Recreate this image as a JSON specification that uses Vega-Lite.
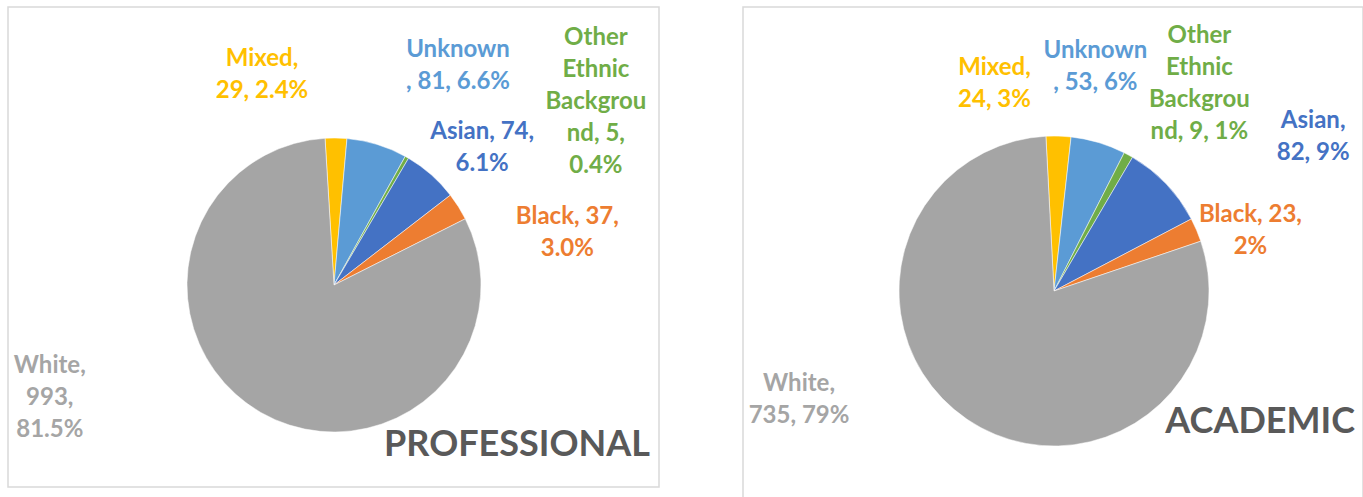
{
  "$schema": "https://vega.github.io/schema/vega-lite/v6.json",
  "padding": {"left": 7, "top": 4, "right": 0, "bottom": 0},
  "spacing": 84,
  "bounds": "flush",
  "config": {
    "view": {"stroke": "#D9D9D9", "strokeWidth": 1.5},
    "font": "Lato",
    "text": {"font": "Lato", "fontWeight": "bold", "fontSize": 24, "lineHeight": 32, "align": "center", "baseline": "middle", "lineBreak": "\n"},
    "title": {"font": "Lato", "fontWeight": "bold", "fontSize": 36, "color": "#595959", "orient": "bottom", "anchor": "end", "frame": "group", "baseline": "alphabetic"}
  },
  "datasets": {
    "prof": [
      {"cat": "Mixed", "n": 29, "idx": 1, "label": "Mixed,\n29, 2.4%"},
      {"cat": "Unknown", "n": 81, "idx": 2, "label": "Unknown\n, 81, 6.6%"},
      {"cat": "Other Ethnic Background", "n": 5, "idx": 3, "label": "Other\nEthnic\nBackgrou\nnd, 5,\n0.4%"},
      {"cat": "Asian", "n": 74, "idx": 4, "label": "Asian, 74,\n6.1%"},
      {"cat": "Black", "n": 37, "idx": 5, "label": "Black, 37,\n3.0%"},
      {"cat": "White", "n": 993, "idx": 6, "label": "White,\n993,\n81.5%"}
    ],
    "acad": [
      {"cat": "Mixed", "n": 24, "idx": 1, "label": "Mixed,\n24, 3%"},
      {"cat": "Unknown", "n": 53, "idx": 2, "label": "Unknown\n, 53, 6%"},
      {"cat": "Other Ethnic Background", "n": 9, "idx": 3, "label": "Other\nEthnic\nBackgrou\nnd, 9, 1%"},
      {"cat": "Asian", "n": 82, "idx": 4, "label": "Asian,\n82, 9%"},
      {"cat": "Black", "n": 23, "idx": 5, "label": "Black, 23,\n2%"},
      {"cat": "White", "n": 735, "idx": 6, "label": "White,\n735, 79%"}
    ]
  },
  "hconcat": [
    {
      "width": 651,
      "height": 480,
      "view": {"stroke": "#D9D9D9", "strokeWidth": 1.5},
      "data": {"name": "prof"},
      "title": {"text": "PROFESSIONAL", "offset": -59, "dx": -9},
      "encoding": {
        "theta": {"field": "n", "type": "quantitative", "stack": true, "scale": {"range": [-0.0611, 6.2221]}},
        "order": {"field": "idx", "type": "quantitative"},
        "color": {"field": "cat", "type": "nominal", "legend": null,
          "scale": {"domain": ["Mixed", "Unknown", "Other Ethnic Background", "Asian", "Black", "White"],
                    "range": ["#FFC000", "#5B9BD5", "#70AD47", "#4472C4", "#ED7D31", "#A5A5A5"]}}
      },
      "layer": [
        {"mark": {"type": "arc", "outerRadius": 147, "xOffset": 0.5, "yOffset": 38, "stroke": "#ffffff", "strokeWidth": 0.5}},
        {"mark": {"type": "text", "radius": 147, "xOffset": 0.5, "yOffset": 38, "dx": -74, "dy": -79},
         "encoding": {"text": {"condition": {"test": "datum.cat === 'Mixed'", "field": "label"}, "value": ""}}},
        {"mark": {"type": "text", "radius": 147, "xOffset": 0.5, "yOffset": 38, "dx": 81, "dy": -94},
         "encoding": {"text": {"condition": {"test": "datum.cat === 'Unknown'", "field": "label"}, "value": ""}}},
        {"mark": {"type": "text", "radius": 147, "xOffset": 0.5, "yOffset": 38, "dx": 189, "dy": -119},
         "encoding": {"text": {"condition": {"test": "datum.cat === 'Other Ethnic Background'", "field": "label"}, "value": ""}}},
        {"mark": {"type": "text", "radius": 147, "xOffset": 0.5, "yOffset": 38, "dx": 51, "dy": -43},
         "encoding": {"text": {"condition": {"test": "datum.cat === 'Asian'", "field": "label"}, "value": ""}}},
        {"mark": {"type": "text", "radius": 147, "xOffset": 0.5, "yOffset": 38, "dx": 109, "dy": 10},
         "encoding": {"text": {"condition": {"test": "datum.cat === 'Black'", "field": "label"}, "value": ""}}},
        {"mark": {"type": "text", "radius": 147, "xOffset": 0.5, "yOffset": 38, "dx": -211, "dy": -46},
         "encoding": {"text": {"condition": {"test": "datum.cat === 'White'", "field": "label"}, "value": ""}}}
      ]
    },
    {
      "width": 620,
      "height": 495,
      "view": {"stroke": "#D9D9D9", "strokeWidth": 1.5},
      "data": {"name": "acad"},
      "title": {"text": "ACADEMIC", "offset": -97, "dx": -8},
      "encoding": {
        "theta": {"field": "n", "type": "quantitative", "stack": true, "scale": {"range": [-0.0524, 6.2308]}},
        "order": {"field": "idx", "type": "quantitative"},
        "color": {"field": "cat", "type": "nominal", "legend": null,
          "scale": {"domain": ["Mixed", "Unknown", "Other Ethnic Background", "Asian", "Black", "White"],
                    "range": ["#FFC000", "#5B9BD5", "#70AD47", "#4472C4", "#ED7D31", "#A5A5A5"]}}
      },
      "layer": [
        {"mark": {"type": "arc", "outerRadius": 155, "xOffset": 1, "yOffset": 36.5, "stroke": "#ffffff", "strokeWidth": 0.5}},
        {"mark": {"type": "text", "radius": 155, "xOffset": 1, "yOffset": 36.5, "dx": -64, "dy": -68},
         "encoding": {"text": {"condition": {"test": "datum.cat === 'Mixed'", "field": "label"}, "value": ""}}},
        {"mark": {"type": "text", "radius": 155, "xOffset": 1, "yOffset": 36.5, "dx": -3, "dy": -91},
         "encoding": {"text": {"condition": {"test": "datum.cat === 'Unknown'", "field": "label"}, "value": ""}}},
        {"mark": {"type": "text", "radius": 155, "xOffset": 1, "yOffset": 36.5, "dx": 71, "dy": -119},
         "encoding": {"text": {"condition": {"test": "datum.cat === 'Other Ethnic Background'", "field": "label"}, "value": ""}}},
        {"mark": {"type": "text", "radius": 155, "xOffset": 1, "yOffset": 36.5, "dx": 147, "dy": -63},
         "encoding": {"text": {"condition": {"test": "datum.cat === 'Asian'", "field": "label"}, "value": ""}}},
        {"mark": {"type": "text", "radius": 155, "xOffset": 1, "yOffset": 36.5, "dx": 54, "dy": -15},
         "encoding": {"text": {"condition": {"test": "datum.cat === 'Black'", "field": "label"}, "value": ""}}},
        {"mark": {"type": "text", "radius": 155, "xOffset": 1, "yOffset": 36.5, "dx": -168, "dy": -35},
         "encoding": {"text": {"condition": {"test": "datum.cat === 'White'", "field": "label"}, "value": ""}}}
      ]
    }
  ]
}
